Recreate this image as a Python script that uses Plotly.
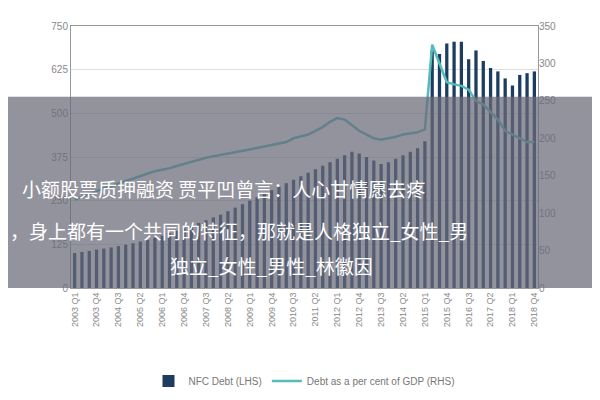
import plotly.graph_objects as go

quarters = [f"{y} Q{q}" for y in range(2003, 2019) for q in range(1, 5)]
nfc_debt = [100, 103, 106, 110, 113, 116, 120, 124, 128, 133, 138, 144,
            150, 157, 164, 171, 178, 186, 194, 202, 210, 220, 230, 240,
            250, 260, 270, 280, 290, 300, 310, 320, 330, 340, 350, 360,
            370, 380, 390, 385, 375, 365, 355, 360, 370, 380, 390, 400, 420,
            680, 670, 700, 705, 705, 655, 680, 650, 630, 620, 600, 580, 610, 615, 620]
debt_gdp = [118, 122, 126, 130, 133, 136, 140, 143, 146, 150, 153, 156,
            158, 160, 163, 166, 168, 171, 174, 176, 178, 180, 182, 183,
            185, 187, 189, 190, 192, 195, 200, 203, 205, 210, 215, 222,
            227, 225, 218, 210, 205, 200, 198, 200, 202, 205, 207, 208, 212,
            325, 300, 275, 272, 270, 265, 250, 245, 235, 225, 210, 205, 200, 195, 195]
tick_labels = quarters[::3]

fig = go.Figure()
fig.add_bar(x=quarters, y=nfc_debt, name="NFC Debt (LHS)", marker_color="#1d3d60",
            marker_line_width=0, width=0.45)
fig.add_scatter(x=quarters, y=debt_gdp, name="Debt as a per cent of GDP (RHS)", yaxis="y2",
                mode="lines", line=dict(color="#55bcbc", width=2.5))

fig.update_layout(
    width=600, height=400, margin=dict(l=63, r=70, t=15, b=100),
    paper_bgcolor="white", plot_bgcolor="white",
    font=dict(family="Liberation Sans", size=10, color="#888"),
    showlegend=True,
    legend=dict(orientation="h", x=0.5, xanchor="center", y=-0.3, yanchor="top",
                font=dict(size=10, color="#777")),
    xaxis=dict(tickmode="array", tickvals=tick_labels, ticktext=tick_labels, tickangle=-90,
               showline=True, linecolor="#999", mirror=True, tickfont=dict(size=9)),
    yaxis=dict(range=[0, 750], tickvals=[0,125,250,375,500,625,750], gridcolor="#ddd",
               showline=True, linecolor="#999", mirror=True, zeroline=False),
    yaxis2=dict(range=[0, 350], tickvals=[0,50,100,150,200,250,300,350], overlaying="y",
                side="right", showgrid=False, zeroline=False),
)
fig.add_shape(type="rect", xref="paper", yref="paper", x0=-0.2, x1=1.3, y0=0.0, y1=0.73,
              fillcolor="rgba(105,105,120,0.72)", line_width=0, layer="above")
for txt, x, y in [("小额股票质押融资 贾平凹曾言：人心甘情愿去疼", 12, 182),
                  ("，身上都有一个共同的特征，那就是人格独立_女性_男", 0, 226),
                  ("独立_女性_男性_林徽因", 160, 262)]:
    fig.add_annotation(text=txt, xref="paper", yref="paper", x=(x-63)/467, y=(285-y)/270,
                       xanchor="left", yanchor="middle", showarrow=False,
                       font=dict(family="Noto Sans CJK SC", size=19, color="white"))
fig.write_html("out.html")
